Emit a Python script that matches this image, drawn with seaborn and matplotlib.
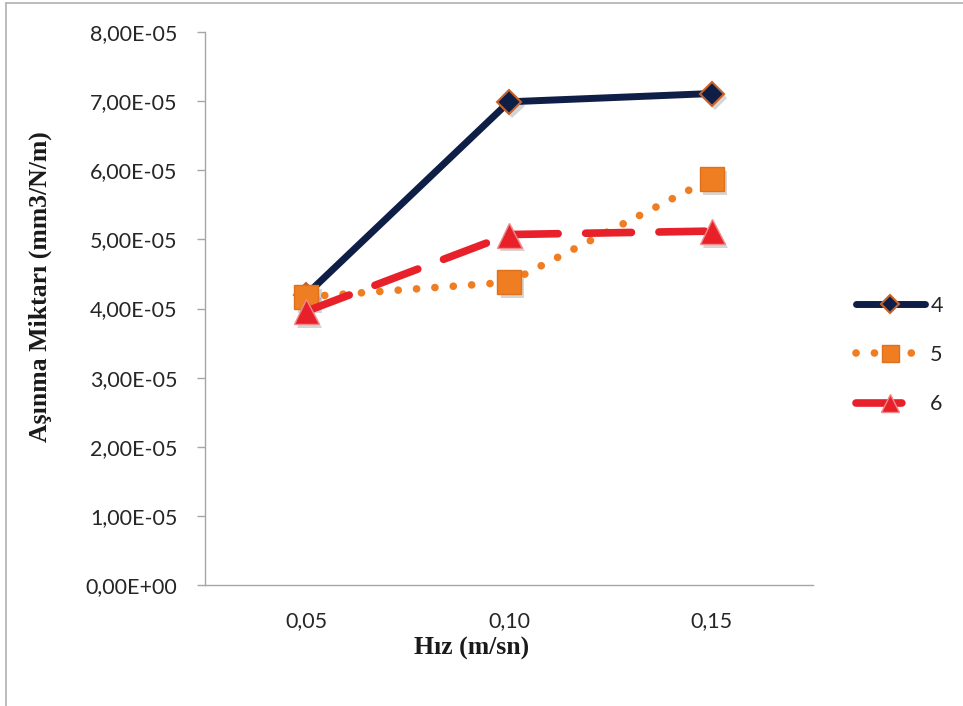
import matplotlib
matplotlib.use("Agg")
import matplotlib.pyplot as plt
import matplotlib.patheffects as pe
from matplotlib.lines import Line2D
from matplotlib.ticker import FuncFormatter, MultipleLocator
import numpy as np
import pandas as pd
import seaborn as sns

# Sliding speed categories and specific wear rate per sample
speed_labels = ["0,05", "0,10", "0,15"]
wear_4 = [4.20e-05, 6.99e-05, 7.11e-05]
wear_5 = [4.17e-05, 4.38e-05, 5.88e-05]
wear_6 = [3.96e-05, 5.07e-05, 5.12e-05]
series_names = ["4", "5", "6"]

sns.set_theme(style="white")
plt.rcParams["font.family"] = ["Lato", "DejaVu Sans"]

fig = plt.figure(figsize=(9.63, 7.06), dpi=100)
ax = fig.add_axes([205 / 963, 1 - 585 / 706, (813 - 205) / 963, (585 - 32) / 706])

x = np.arange(len(speed_labels))
df = pd.DataFrame({"x": x, "4": wear_4, "5": wear_5, "6": wear_6})

navy = "#0E1E46"
orange = "#EF7D22"
red = "#E8202A"

styles = [
    dict(col="4", color=navy, linewidth=5.0, solid_capstyle="round",
         marker="D", markersize=12.5, markerfacecolor=navy,
         markeredgecolor="#C8632A", markeredgewidth=1.5, z=3),
    dict(col="5", color=orange, linewidth=5.5, linestyle=(0, (0.01, 2.4)),
         dash_capstyle="round", marker="s", markersize=17,
         markerfacecolor=orange, markeredgecolor="#E0711C",
         markeredgewidth=1.0, z=4),
    dict(col="6", color=red, linewidth=5.5, linestyle=(0, (6.0, 3.6)),
         dash_capstyle="round", marker="^", markersize=18,
         markerfacecolor=red, markeredgecolor="#F08A8A",
         markeredgewidth=1.0, z=5),
]

shadow = [pe.SimplePatchShadow(offset=(2.5, -3), shadow_rgbFace="k",
                               alpha=0.18)]
for name, st in zip(series_names, styles):
    st = dict(st)
    col = st.pop("col")
    z = st.pop("z")
    # soft drop shadow under the markers
    sns.lineplot(data=df, x="x", y=col, ax=ax, color=st["color"],
                 linestyle="none", marker=st["marker"],
                 markersize=st["markersize"], markeredgewidth=0,
                 markerfacecolor="k", label="_nolegend_",
                 path_effects=shadow, zorder=z - 0.5)
    sns.lineplot(data=df, x="x", y=col, ax=ax, label=name, zorder=z, **st)

ax.set_xlim(-0.5, len(speed_labels) - 0.5)
ax.set_ylim(0, 8e-05)
ax.yaxis.set_major_locator(MultipleLocator(1e-05))
ax.yaxis.set_major_formatter(
    FuncFormatter(lambda v, _: f"{v:.2E}".replace(".", ",")))
ax.set_xticks(x)
ax.set_xticklabels(speed_labels)
ax.set_xlabel("")
ax.set_ylabel("")

axis_gray = "#A6A6A6"
for side in ("top", "right"):
    ax.spines[side].set_visible(False)
for side in ("left", "bottom"):
    ax.spines[side].set_color(axis_gray)
    ax.spines[side].set_linewidth(1.0)

ax.tick_params(axis="y", which="major", left=True, length=6, width=1.0,
               color=axis_gray, pad=14, labelsize=15.5, labelcolor="#262626")
ax.tick_params(axis="x", which="major", bottom=False, length=0, pad=19,
               labelsize=15.5, labelcolor="#262626")

serif_bold = dict(family=["Liberation Serif", "DejaVu Serif"],
                  weight="bold", size=18.5, color="#1a1a1a")
fig.text(472 / 963, 1 - 648 / 706, "Hız (m/sn)", ha="center", va="center",
         **serif_bold)
fig.text(40 / 963, 1 - 287 / 706, "Aşınma Miktarı (mm3/N/m)", ha="center",
         va="center", rotation=90, **serif_bold)

handles, labels = ax.get_legend_handles_labels()
keep = [(h, l) for h, l in zip(handles, labels) if l in series_names]
leg = ax.legend([h for h, _ in keep], [l for _, l in keep],
                loc="center left", bbox_to_anchor=(856 / 963, 1 - 355 / 706),
                bbox_transform=fig.transFigure, frameon=False, fontsize=15.5,
                handlelength=3.2, handletextpad=0.25, labelspacing=1.35,
                borderpad=0, borderaxespad=0, numpoints=1, markerscale=0.72)
for t in leg.get_texts():
    t.set_color("#262626")

# Chart-area border
border = "#B0B0B0"
fig.add_artist(Line2D([6 / 963, 1], [1 - 3 / 706, 1 - 3 / 706],
                      transform=fig.transFigure, color=border, lw=1.2))
fig.add_artist(Line2D([6 / 963, 6 / 963], [0, 1 - 3 / 706],
                      transform=fig.transFigure, color=border, lw=1.2))

fig.savefig("out.png", dpi=100)
